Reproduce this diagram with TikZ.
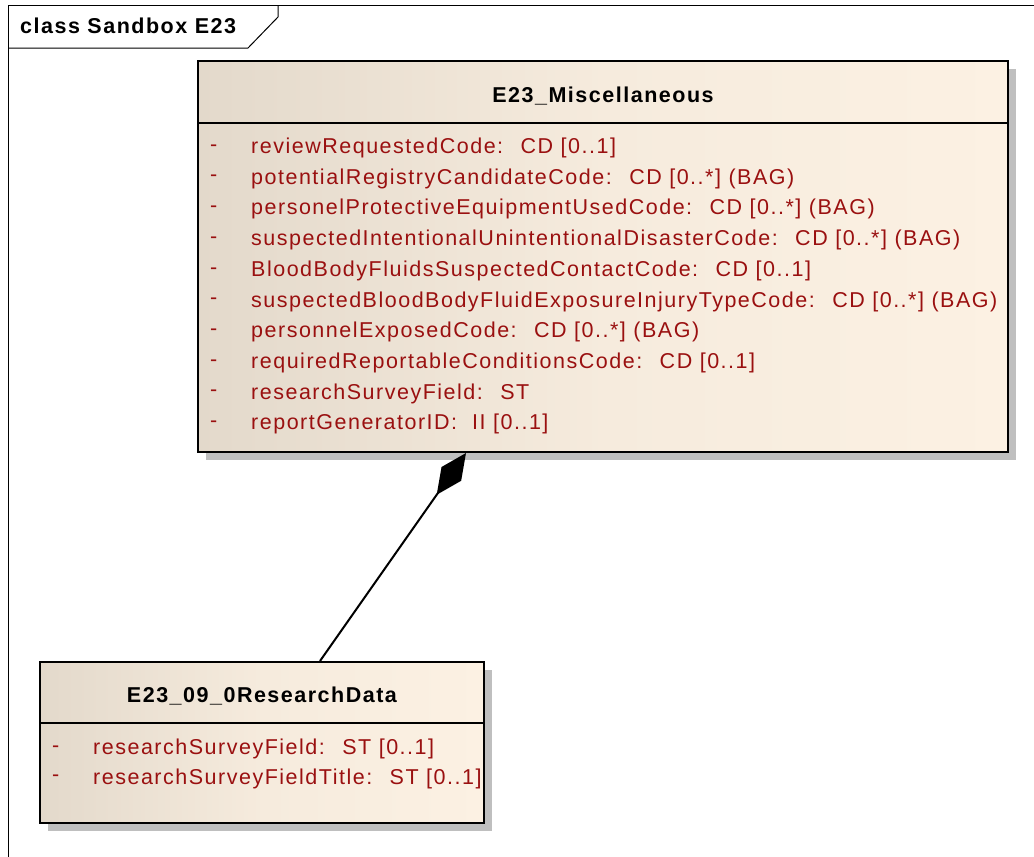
\documentclass[tikz,border=0pt]{standalone}
\usepackage{fontspec}
\setmainfont{Liberation Sans}
\newfontfamily\eafont[LetterSpace=7]{Liberation Sans}
\usetikzlibrary{arrows.meta, shadows, positioning}
\definecolor{attrred}{HTML}{9A1010}
\definecolor{boxleft}{HTML}{E3D9CB}
\definecolor{boxright}{HTML}{FCF1E3}
\definecolor{shadowgray}{HTML}{BFBFBF}
\tikzset{
	classbox/.style={draw=black, line width=2pt, rectangle, inner sep=0pt,
		left color=boxleft, right color=boxright, middle color=boxright!75!boxleft,
		drop shadow={shadow xshift=8pt, shadow yshift=-8pt, fill=shadowgray, opacity=1}},
	classtitle/.style={font=\eafont\fontsize{21.5}{26}\selectfont\bfseries},
	attrtext/.style={font=\eafont\fontsize{21.5}{26}\selectfont\color{attrred}, anchor=west, inner sep=0pt},
	frametext/.style={font=\eafont\fontsize{21.5}{26}\selectfont\bfseries, anchor=west, inner sep=0pt}
}
\newcommand{\attr}[1]{#1}

\begin{document}
\begin{tikzpicture}[x=1pt,y=-1pt]
      \useasboundingbox (0,0) rectangle (1034,857);
      % diagram frame
      \draw[line width=1pt] (8,857) -- (8,5) -- (1034,5);
      \draw[line width=1pt] (8,48) -- (248,48) -- (278,17) -- (278,5);
      \node[frametext] (frametitle) at (20,26) {class Sandbox E23};
      % E23_Miscellaneous
      \node[classbox, minimum width=810pt, minimum height=391pt] (misc) at (603,256.5) {};
      \draw[line width=2pt] ([yshift=-63pt]misc.north west) -- ([yshift=-63pt]misc.north east);
      \node[classtitle] (misctitle) at ([yshift=-36pt]misc.north) {E23\_Miscellaneous};
      \foreach \i/\t in {
        0/{reviewRequestedCode:~ CD [0..1]},
        1/{potentialRegistryCandidateCode:~ CD [0..*] (BAG)},
        2/{personelProtectiveEquipmentUsedCode:~ CD [0..*] (BAG)},
        3/{suspectedIntentionalUnintentionalDisasterCode:~ CD [0..*] (BAG)},
        4/{BloodBodyFluidsSuspectedContactCode:~ CD [0..1]},
        5/{suspectedBloodBodyFluidExposureInjuryTypeCode:~ CD [0..*] (BAG)},
        6/{personnelExposedCode:~ CD [0..*] (BAG)},
        7/{requiredReportableConditionsCode:~ CD [0..1]},
        8/{researchSurveyField:~ ST},
        9/{reportGeneratorID:~ II [0..1]}}
      {
        \node[attrtext] (miscdash\i) at (210,148+30.7*\i) {-};
        \node[attrtext] (miscattr\i) at (251,148+30.7*\i) {\attr{\t}};
      }
      % E23_09_0ResearchData
      \node[classbox, minimum width=444pt, minimum height=161pt] (research) at (262,742.5) {};
      \draw[line width=2pt] ([yshift=-62pt]research.north west) -- ([yshift=-62pt]research.north east);
      \node[classtitle] (researchtitle) at ([yshift=-35pt]research.north) {E23\_09\_0ResearchData};
      \foreach \i/\t in {
        0/{researchSurveyField:~ ST [0..1]},
        1/{researchSurveyFieldTitle:~ ST [0..1]}}
      {
        \node[attrtext] (researchdash\i) at (52,749+29.5*\i) {-};
        \node[attrtext] (researchattr\i) at (93,749+29.5*\i) {\attr{\t}};
      }
      % composition
      \coordinate (partend) at (research.north -| 320,0);
      \coordinate (wholeend) at (misc.south -| 466,0);
      \draw[line width=2pt, -{Diamond[length=51pt, width=24pt]}] (partend) -- (wholeend);
    \end{tikzpicture}
\end{document}
